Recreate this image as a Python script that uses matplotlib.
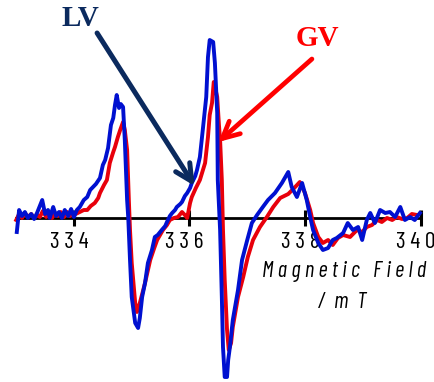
import matplotlib
matplotlib.use("Agg")
import numpy as np
import matplotlib.pyplot as plt
from matplotlib import font_manager
from matplotlib.transforms import ScaledTranslation

# EPR spectra, field in mT, signal in arbitrary units
field_lv = [333.01, 333.05, 333.10, 333.15, 333.20, 333.26, 333.31, 333.36, 333.45, 333.50,
            333.55, 333.58, 333.64, 333.69, 333.74, 333.79, 333.84, 333.90, 333.95, 334.00,
            334.05, 334.10, 334.17, 334.23, 334.28, 334.33, 334.38, 334.45, 334.50, 334.54,
            334.59, 334.64, 334.68, 334.71, 334.74, 334.78, 334.81, 334.85, 334.88, 334.92,
            334.94, 334.97, 335.00, 335.06, 335.11, 335.14, 335.18, 335.23, 335.28, 335.35,
            335.40, 335.45, 335.52, 335.58, 335.61, 335.66, 335.70, 335.75, 335.78, 335.84,
            335.87, 335.92, 335.96, 336.01, 336.04, 336.10, 336.13, 336.18, 336.23, 336.29,
            336.32, 336.35, 336.41, 336.44, 336.48, 336.49, 336.53, 336.56, 336.58, 336.61,
            336.65, 336.67, 336.70, 336.75, 336.84, 336.91, 337.00, 337.08, 337.17, 337.27,
            337.36, 337.48, 337.60, 337.71, 337.77, 337.86, 337.95, 338.03, 338.09, 338.14,
            338.23, 338.31, 338.40, 338.48, 338.55, 338.66, 338.74, 338.83, 338.92, 338.99,
            339.07, 339.13, 339.21, 339.30, 339.39, 339.47, 339.56, 339.65, 339.73, 339.82,
            339.90, 339.99]
signal_lv = [-14, 8, 2, 6, 0, 4, -1, 5, 18, 4,
             8, 0, 11, 2, 6, 0, 8, 2, 9, 1,
             8, 11, 18, 21, 28, 31, 34, 40, 53, 58,
             70, 93, 100, 113, 123, 110, 114, 111, 78, 18,
             0, -42, -79, -105, -110, -100, -79, -65, -45, -32,
             -19, -17, -12, -8, -4, 2, 5, 8, 11, 14,
             16, 22, 25, 30, 35, 42, 48, 61, 88, 121,
             161, 178, 176, 155, 105, 38, -12, -79, -129, -159,
             -159, -142, -129, -102, -72, -42, -22, -5, 3, 11,
             18, 25, 35, 46, 31, 21, 35, 18, 1, -12,
             -25, -32, -30, -22, -20, -15, -5, -12, -9, -22,
             -2, 5, -5, 8, 5, 6, 1, 11, -2, 1,
             -2, 5]

field_gv = [333.00, 333.05, 333.10, 333.15, 333.20, 333.26, 333.31, 333.36, 333.41, 333.46,
            333.52, 333.57, 333.62, 333.67, 333.72, 333.77, 333.83, 333.88, 333.93, 333.98,
            334.03, 334.10, 334.17, 334.23, 334.29, 334.36, 334.42, 334.45, 334.52, 334.57,
            334.62, 334.68, 334.71, 334.76, 334.80, 334.85, 334.88, 334.92, 334.95, 334.97,
            335.00, 335.06, 335.09, 335.14, 335.19, 335.23, 335.32, 335.39, 335.44, 335.49,
            335.54, 335.61, 335.66, 335.73, 335.80, 335.87, 335.92, 335.96, 336.01, 336.04,
            336.11, 336.18, 336.27, 336.32, 336.35, 336.39, 336.42, 336.48, 336.51, 336.53,
            336.56, 336.58, 336.61, 336.65, 336.68, 336.72, 336.75, 336.84, 336.93, 337.01,
            337.10, 337.22, 337.34, 337.45, 337.57, 337.71, 337.83, 337.91, 338.00, 338.09,
            338.14, 338.23, 338.31, 338.40, 338.48, 338.57, 338.66, 338.78, 338.90, 338.99,
            339.07, 339.16, 339.25, 339.33, 339.42, 339.51, 339.59, 339.68, 339.77, 339.85,
            339.94]
signal_gv = [-2, 4, 0, 5, 1, 4, 0, 3, 1, 7,
             1, 6, 0, 5, 2, 6, 1, 6, 2, 5,
             4, 6, 8, 8, 12, 15, 20, 25, 33, 38,
             55, 66, 71, 81, 88, 96, 88, 68, 18, -12,
             -45, -85, -94, -85, -74, -65, -42, -30, -22, -17,
             -12, -7, -2, 0, 1, 6, 3, 0, 15, 21,
             30, 38, 55, 81, 103, 115, 136, 121, 93, 78,
             38, -12, -62, -112, -132, -125, -109, -79, -59, -39,
             -22, -9, 1, 11, 20, 24, 31, 36, 25, 8,
             -5, -19, -25, -22, -27, -20, -17, -19, -12, -14,
             -9, -7, -2, -4, 0, -2, 1, -1, 0, 4,
             3]

ticks = [334, 336, 338, 340]
tick_labels = ["3 3 4", "3 3 6", "3 3 8", "3 4 0"]


def pick_narrow():
    for fam in ["Barlow Condensed", "Roboto Condensed", "Archivo Narrow",
                "Liberation Sans Narrow", "PT Sans Narrow", "Encode Sans Condensed",
                "Open Sans Condensed", "Oswald"]:
        try:
            font_manager.findfont(font_manager.FontProperties(family=fam),
                                  fallback_to_default=False)
            return fam
        except ValueError:
            pass
    return "DejaVu Sans"


narrow = pick_narrow()

fig = plt.figure(figsize=(4.35, 3.82), dpi=100)
ax = fig.add_axes([0, 0, 1, 1])
ax.set_xlim(332.719, 340.251)
ax.set_ylim(-164, 218)

ax.plot(field_gv, signal_gv, color="#e8000b", lw=2.8, zorder=4, solid_joinstyle="round")
ax.plot(field_lv, signal_lv, color="#0010d0", lw=2.8, zorder=5, solid_joinstyle="round")

# zero line acts as the field axis
for s in ["top", "left", "right"]:
    ax.spines[s].set_visible(False)
ax.spines["bottom"].set_position(("data", 0))
ax.spines["bottom"].set_bounds(333.0, 340.0)
ax.spines["bottom"].set_linewidth(2.0)
ax.spines["bottom"].set_zorder(3)
ax.yaxis.set_visible(False)
ax.set_xticks(ticks)
ax.set_xticklabels(tick_labels)
ax.tick_params(axis="x", direction="inout", length=12, width=2.2, pad=4, color="black")
off = ScaledTranslation(-5 / 100, 0, fig.dpi_scale_trans)
for lab in ax.get_xticklabels():
    lab.set_fontproperties(font_manager.FontProperties(family=narrow, size=17))
    lab.set_transform(lab.get_transform() + off)

ax.text(338.68, -54, "M a g n e t i c   F i e l d", fontsize=16.3,
        style="italic", family=narrow, ha="center", va="center")
ax.text(338.64, -84, "/  m  T", fontsize=16.3, style="italic", family=narrow,
        ha="center", va="center")

# labels with arrows
ax.text(334.12, 199, "LV", fontsize=21, fontweight="bold", family="Liberation Serif",
        color="#0b2a5e", ha="center", va="center")
ax.annotate("", xy=(336.09, 32), xytext=(334.40, 185),
            arrowprops=dict(arrowstyle="->,head_length=0.6,head_width=0.3",
                            color="#0b2a5e", lw=3.6, mutation_scale=20,
                            shrinkA=0, shrinkB=0), zorder=6)
ax.text(338.21, 179, "GV", fontsize=21, fontweight="bold", family="Liberation Serif",
        color="#ff0000", ha="center", va="center")
ax.annotate("", xy=(336.50, 76), xytext=(338.12, 159),
            arrowprops=dict(arrowstyle="->,head_length=0.6,head_width=0.3",
                            color="#ff0000", lw=3.4, mutation_scale=20,
                            shrinkA=0, shrinkB=0), zorder=6)

plt.savefig("out.png", dpi=100)
